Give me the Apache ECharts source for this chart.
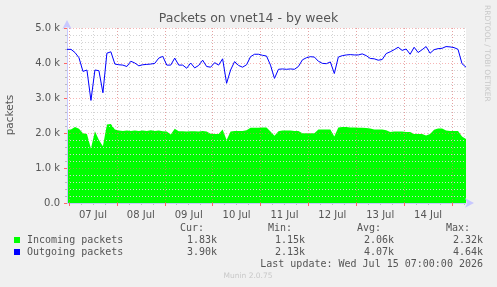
<!DOCTYPE html>
<html>
<head>
<meta charset="utf-8">
<script src="https://cdn.jsdelivr.net/npm/echarts@6/dist/echarts.min.js"></script>
<style>
  html, body { margin: 0; padding: 0; background: #f0f0f0; }
  #chart { width: 497px; height: 287px; }
</style>
</head>
<body>
<div id="chart"></div>
<script>
// hours counted from 06 Jul 00:00, one sample every 2 hours (06 Jul 23:00 .. 15 Jul 07:00)
const startHour = 23;
const stepHours = 2;
const endHour = 223;

const incoming = [
  2.09, 2.10, 2.17, 2.12, 1.99, 1.97, 1.56, 2.05, 1.80, 1.62,
  2.24, 2.26, 2.10, 2.07, 2.06, 2.07, 2.06, 2.07, 2.06, 2.07,
  2.06, 2.08, 2.06, 2.07, 2.05, 2.04, 1.96, 2.12, 2.05, 2.05,
  2.04, 2.05, 2.05, 2.04, 2.06, 2.04, 1.98, 1.97, 1.97, 2.10,
  1.80, 2.04, 2.06, 2.06, 2.06, 2.08, 2.15, 2.15, 2.15, 2.16,
  2.16, 2.04, 1.92, 2.05, 2.07, 2.07, 2.07, 2.06, 2.06, 1.99,
  1.99, 1.99, 1.99, 2.10, 2.10, 2.10, 2.10, 1.90, 2.16, 2.17,
  2.17, 2.16, 2.16, 2.15, 2.15, 2.14, 2.13, 2.10, 2.10, 2.10,
  2.08, 2.03, 2.04, 2.04, 2.04, 2.03, 2.03, 1.97, 1.97, 1.97,
  1.93, 1.97, 2.09, 2.13, 2.13, 2.07, 2.06, 2.06, 2.06, 1.90,
  1.83
];
const outgoing = [
  4.39, 4.39, 4.30, 4.15, 3.76, 3.80, 2.93, 3.80, 3.78, 3.15,
  4.28, 4.32, 3.97, 3.95, 3.94, 3.90, 4.05, 4.00, 3.92, 3.95,
  3.96, 3.97, 3.99, 4.14, 4.19, 3.94, 3.94, 4.14, 3.94, 3.94,
  3.85, 4.00, 3.86, 3.93, 4.08, 3.90, 3.88, 4.01, 3.94, 4.12,
  3.42, 3.80, 4.04, 3.93, 3.88, 3.95, 4.18, 4.25, 4.25, 4.22,
  4.20, 3.94, 3.56, 3.82, 3.83, 3.82, 3.83, 3.82, 3.90, 4.09,
  4.15, 4.18, 4.17, 4.05, 3.99, 3.98, 4.03, 3.70, 4.17, 4.21,
  4.23, 4.24, 4.23, 4.23, 4.26, 4.21, 4.13, 4.12, 4.08, 4.10,
  4.27, 4.32, 4.38, 4.45, 4.36, 4.40, 4.25, 4.45, 4.30, 4.38,
  4.47, 4.28, 4.38, 4.41, 4.42, 4.47, 4.46, 4.44, 4.39, 3.98,
  3.88
];

const dayLabels = ['07 Jul', '08 Jul', '09 Jul', '10 Jul', '11 Jul', '12 Jul', '13 Jul', '14 Jul'];
const dayLines = [24, 48, 72, 96, 120, 144, 168, 192, 216];
const labelHours = [36, 60, 84, 108, 132, 156, 180, 204];
const sixHourLines = [];
for (let h = 24; h <= endHour; h += 6) sixHourLines.push(h);

const seriesNames = ['Incoming packets', 'Outgoing packets'];
const seriesColors = ['#00ff00', '#0000ff'];
const statCur = ['1.83k', '3.90k'];
const statMin = ['1.15k', '2.13k'];
const statAvg = ['2.06k', '4.07k'];
const statMax = ['2.32k', '4.64k'];

const toPairs = arr => arr.map((v, i) => [startHour + i * stepHours, v * 1000]);

const sans = 'DejaVu Sans';
const graphic = [
  { type: 'text', left: 'center', top: 12, style: { text: 'Packets on vnet14 - by week', font: '12.5px "DejaVu Sans"', fill: '#555' } },
  { type: 'text', x: 10, y: 115, rotation: Math.PI / 2, style: { text: 'packets', font: '10.5px "DejaVu Sans"', fill: '#555', align: 'center', verticalAlign: 'middle' } },
  { type: 'text', x: 487, y: 5, rotation: -Math.PI / 2, style: { text: 'RRDTOOL / TOBI OETIKER', font: '7.5px "DejaVu Sans"', fill: '#c8c8c8', align: 'left', verticalAlign: 'middle' } },
  { type: 'text', x: 204, y: 228, style: { text: 'Cur:', font: '10px "DejaVu Sans Mono"', fill: '#555', align: 'right', verticalAlign: 'middle' } },
  { type: 'text', x: 292, y: 228, style: { text: 'Min:', font: '10px "DejaVu Sans Mono"', fill: '#555', align: 'right', verticalAlign: 'middle' } },
  { type: 'text', x: 381, y: 228, style: { text: 'Avg:', font: '10px "DejaVu Sans Mono"', fill: '#555', align: 'right', verticalAlign: 'middle' } },
  { type: 'text', x: 470, y: 228, style: { text: 'Max:', font: '10px "DejaVu Sans Mono"', fill: '#555', align: 'right', verticalAlign: 'middle' } },
  { type: 'text', x: 483, y: 264, style: { text: 'Last update: Wed Jul 15 07:00:00 2026', font: '10px "DejaVu Sans Mono"', fill: '#555', align: 'right', verticalAlign: 'middle' } },
  { type: 'text', x: 248, y: 276, style: { text: 'Munin 2.0.75', font: '7.5px "DejaVu Sans"', fill: '#c8c8c8', align: 'center', verticalAlign: 'middle' } }
];
seriesNames.forEach((name, k) => {
  const y = 240 + k * 12;
  graphic.push(
    { type: 'rect', shape: { x: 14, y: y - 3, width: 6, height: 6 }, style: { fill: seriesColors[k] } },
    { type: 'text', x: 27, y: y, style: { text: name, font: '10px "DejaVu Sans Mono"', fill: '#555', verticalAlign: 'middle' } },
    { type: 'text', x: 217, y: y, style: { text: statCur[k], font: '10px "DejaVu Sans Mono"', fill: '#555', align: 'right', verticalAlign: 'middle' } },
    { type: 'text', x: 305, y: y, style: { text: statMin[k], font: '10px "DejaVu Sans Mono"', fill: '#555', align: 'right', verticalAlign: 'middle' } },
    { type: 'text', x: 394, y: y, style: { text: statAvg[k], font: '10px "DejaVu Sans Mono"', fill: '#555', align: 'right', verticalAlign: 'middle' } },
    { type: 'text', x: 483, y: y, style: { text: statMax[k], font: '10px "DejaVu Sans Mono"', fill: '#555', align: 'right', verticalAlign: 'middle' } }
  );
});

const myChart = echarts.init(document.getElementById('chart'), null, { renderer: 'canvas' });
const option = {
  backgroundColor: '#f0f0f0',
  animation: false,
  grid: { left: 67, right: 31, top: 28, bottom: 84, show: true, backgroundColor: '#ffffff', borderWidth: 0 },
  xAxis: [
    {
      type: 'value', min: startHour, max: endHour,
      axisLine: { show: true, onZero: false, lineStyle: { color: '#c8c8ff', width: 1 }, symbol: ['none', 'arrow'], symbolSize: [7, 9], symbolOffset: [0, 8] },
      axisTick: { show: true, customValues: dayLines, length: 3, lineStyle: { color: '#ff6666' } },
      axisLabel: {
        customValues: labelHours, color: '#555', fontFamily: sans, fontSize: 10, margin: 7,
        formatter: v => dayLabels[labelHours.indexOf(v)] || ''
      },
      splitLine: { show: true, lineStyle: { color: 'rgba(240,120,120,0.55)', type: [1, 2], width: 1 } },
      z: 3
    },
    {
      type: 'value', min: startHour, max: endHour, position: 'bottom',
      axisLine: { show: false },
      axisTick: { show: true, customValues: sixHourLines, length: 2, lineStyle: { color: '#bbb' } },
      axisLabel: { show: false },
      splitLine: { show: true, lineStyle: { color: '#d4d4d4', type: [1, 2], width: 1 } }
    }
  ],
  yAxis: {
    type: 'value', min: 0, max: 5000, interval: 1000,
    axisLine: { show: true, lineStyle: { color: '#c8c8ff' }, symbol: ['none', 'arrow'], symbolSize: [7, 9], symbolOffset: [0, 8] },
    axisTick: { show: true, length: 3, lineStyle: { color: '#ff6666' } },
    minorTick: { show: true, splitNumber: 5, length: 2, lineStyle: { color: '#bbb' } },
    axisLabel: {
      color: '#555', fontFamily: sans, fontSize: 10, margin: 7,
      formatter: v => v === 0 ? '0.0' : (v / 1000).toFixed(1) + ' k'
    },
    splitLine: { show: true, lineStyle: { color: 'rgba(240,120,120,0.55)', type: [1, 2], width: 1 } },
    minorSplitLine: { show: true, lineStyle: { color: '#d4d4d4', type: [1, 2], width: 1 } },
    z: 3
  },
  series: [
    {
      name: seriesNames[0], type: 'line', data: toPairs(incoming), xAxisIndex: 0,
      showSymbol: false, symbol: 'none',
      lineStyle: { width: 0, color: seriesColors[0] },
      areaStyle: { color: seriesColors[0], opacity: 1 },
      z: 1
    },
    {
      name: seriesNames[1], type: 'line', data: toPairs(outgoing), xAxisIndex: 0,
      showSymbol: false, symbol: 'none',
      lineStyle: { width: 1, color: seriesColors[1] },
      z: 4
    }
  ],
  graphic: graphic
};
myChart.setOption(option);
</script>
</body>
</html>
